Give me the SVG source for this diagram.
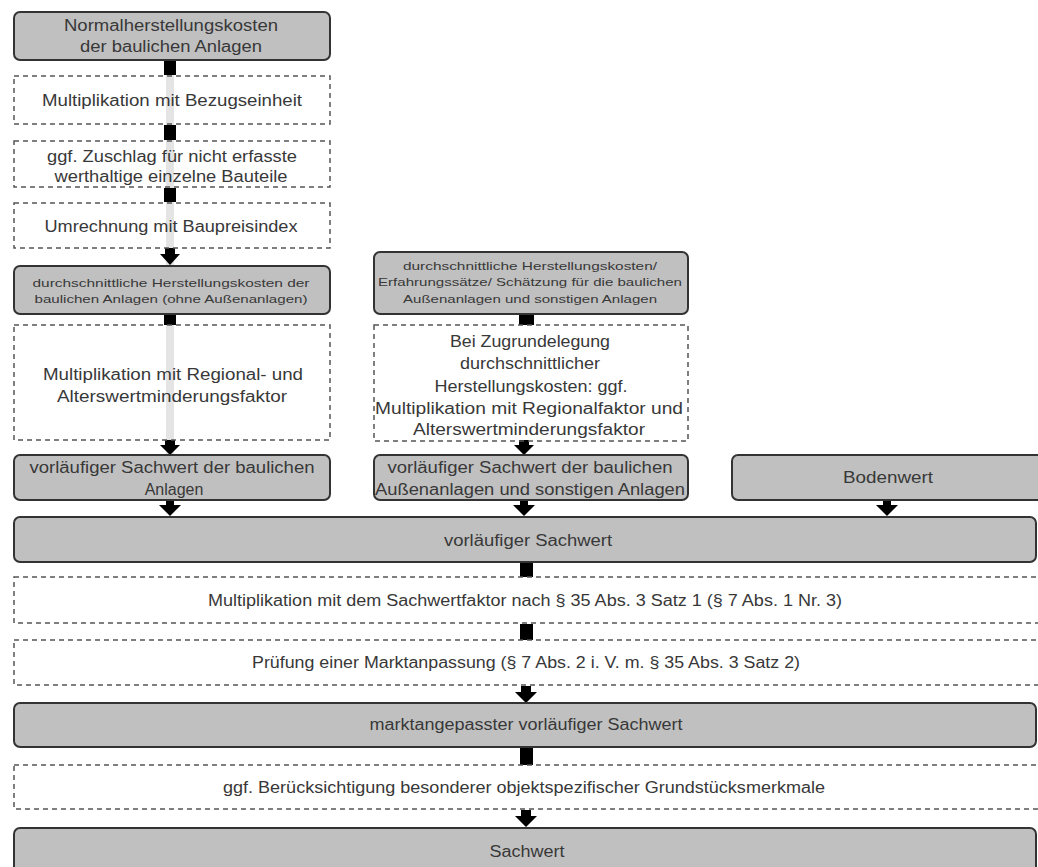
<svg xmlns="http://www.w3.org/2000/svg" width="1038" height="867" viewBox="0 0 1038 867">
<style>
.g{fill:#c0c0c0;stroke:#333;stroke-width:2}
.d{fill:none;stroke:#555;stroke-width:1.5;stroke-dasharray:5 4}
text{font-family:"Liberation Sans",Arial,sans-serif;font-size:16px;fill:#383838;text-anchor:middle;dominant-baseline:central}
.s{font-size:11px}
.k{fill:#000}
</style>
<rect width="1038" height="867" fill="#fff"/>
<g id="connectors">
<line x1="170" y1="60" x2="170" y2="455" stroke="#e4e4e4" stroke-width="8"/>
<rect class="k" x="164" y="61" width="12" height="14"/>
<rect class="k" x="164" y="125" width="12" height="15"/>
<rect class="k" x="164" y="188" width="12" height="14"/>
<path class="k" d="M165 248h10v6h5l-10 11l-10-11h5z"/>
<rect class="k" x="164" y="314" width="12" height="11"/>
<path class="k" d="M165 440h10v5h5l-10 10l-10-10h5z"/>
<path class="k" d="M166 500h8v5h7l-11 11l-11-11h7z"/>
<rect class="k" x="519" y="315" width="15" height="10"/>
<path class="k" d="M519 440h10v5h5l-10 10l-10-10h5z"/>
<path class="k" d="M520 500h8v5h7l-11 11l-11-11h7z"/>
<path class="k" d="M883 500h8v5h7l-11 11l-11-11h7z"/>
<rect class="k" x="520" y="563" width="13" height="14"/>
<rect class="k" x="520" y="624" width="13" height="16"/>
<path class="k" d="M521 686h10v6h6l-11 11l-11-11h6z"/>
<rect class="k" x="520" y="748" width="13" height="17"/>
<path class="k" d="M521 810h10v6h6l-11 11l-11-11h6z"/>
</g>
<g id="n1"><rect class="g" x="14" y="12" width="316" height="48" rx="6"/><text x="171" y="25" textLength="214" lengthAdjust="spacingAndGlyphs">Normalherstellungskosten</text><text x="171" y="46" textLength="182" lengthAdjust="spacingAndGlyphs">der baulichen Anlagen</text></g>
<g id="n2"><rect class="d" x="14" y="76" width="316" height="48"/><text x="172" y="100" textLength="260" lengthAdjust="spacingAndGlyphs">Multiplikation mit Bezugseinheit</text></g>
<g id="n3"><rect class="d" x="14" y="141" width="316" height="46"/><text x="172" y="156" textLength="250" lengthAdjust="spacingAndGlyphs">ggf. Zuschlag für nicht erfasste</text><text x="171" y="176" textLength="233" lengthAdjust="spacingAndGlyphs">werthaltige einzelne Bauteile</text></g>
<g id="n4"><rect class="d" x="14" y="203" width="316" height="45"/><text x="171" y="226" textLength="253" lengthAdjust="spacingAndGlyphs">Umrechnung mit Baupreisindex</text></g>
<g id="n5"><rect class="g" x="14" y="266" width="316" height="48" rx="6"/><text class="s" x="171" y="283" textLength="277" lengthAdjust="spacingAndGlyphs">durchschnittliche Herstellungskosten der</text><text class="s" x="171" y="299" textLength="273" lengthAdjust="spacingAndGlyphs">baulichen Anlagen (ohne Außenanlagen)</text></g>
<g id="n6"><rect class="d" x="14" y="325" width="316" height="115"/><text x="173" y="374" textLength="260" lengthAdjust="spacingAndGlyphs">Multiplikation mit Regional- und</text><text x="172" y="396" textLength="230" lengthAdjust="spacingAndGlyphs">Alterswertminderungsfaktor</text></g>
<g id="n7"><rect class="g" x="14" y="455" width="316" height="45" rx="6"/><text x="172" y="467" textLength="285" lengthAdjust="spacingAndGlyphs">vorläufiger Sachwert der baulichen</text><text x="174" y="489">Anlagen</text></g>
<g id="m1"><rect class="g" x="374" y="252" width="314" height="62" rx="6"/><text class="s" x="530" y="266" textLength="254" lengthAdjust="spacingAndGlyphs">durchschnittliche Herstellungskosten/</text><text class="s" x="530" y="282" textLength="304" lengthAdjust="spacingAndGlyphs">Erfahrungssätze/ Schätzung für die baulichen</text><text class="s" x="530" y="299" textLength="254" lengthAdjust="spacingAndGlyphs">Außenanlagen und sonstigen Anlagen</text></g>
<g id="m2"><rect class="d" x="374" y="325" width="314" height="116"/><text x="530" y="341" textLength="160" lengthAdjust="spacingAndGlyphs">Bei Zugrundelegung</text><text x="530" y="363" textLength="140" lengthAdjust="spacingAndGlyphs">durchschnittlicher</text><text x="531" y="386" textLength="193" lengthAdjust="spacingAndGlyphs">Herstellungskosten: ggf.</text><text x="529" y="408" textLength="308" lengthAdjust="spacingAndGlyphs">Multiplikation mit Regionalfaktor und</text><text x="529" y="429" textLength="232" lengthAdjust="spacingAndGlyphs">Alterswertminderungsfaktor</text></g>
<g id="m3"><rect class="g" x="374" y="455" width="314" height="45" rx="6"/><text x="530" y="467" textLength="285" lengthAdjust="spacingAndGlyphs">vorläufiger Sachwert der baulichen</text><text x="530" y="489" textLength="310" lengthAdjust="spacingAndGlyphs">Außenanlagen und sonstigen Anlagen</text></g>
<g id="bw"><rect class="g" x="732" y="455" width="330" height="45" rx="6"/><text x="888" y="477" textLength="90" lengthAdjust="spacingAndGlyphs">Bodenwert</text></g>
<g id="vs"><rect class="g" x="14" y="517" width="1022" height="45" rx="6"/><text x="528" y="540" textLength="168" lengthAdjust="spacingAndGlyphs">vorläufiger Sachwert</text></g>
<g id="mult"><rect class="d" x="14" y="577" width="1030" height="46"/><text x="525" y="600" textLength="634" lengthAdjust="spacingAndGlyphs">Multiplikation mit dem Sachwertfaktor nach § 35 Abs. 3 Satz 1 (§ 7 Abs. 1 Nr. 3)</text></g>
<g id="pruef"><rect class="d" x="14" y="640" width="1030" height="45"/><text x="526" y="662" textLength="548" lengthAdjust="spacingAndGlyphs">Prüfung einer Marktanpassung  (§ 7 Abs. 2 i. V. m. § 35 Abs. 3 Satz 2)</text></g>
<g id="markt"><rect class="g" x="14" y="703" width="1022" height="44" rx="6"/><text x="526" y="724" textLength="313" lengthAdjust="spacingAndGlyphs">marktangepasster vorläufiger Sachwert</text></g>
<g id="bes"><rect class="d" x="14" y="765" width="1030" height="44"/><text x="524" y="787" textLength="602" lengthAdjust="spacingAndGlyphs">ggf. Berücksichtigung besonderer objektspezifischer Grundstücksmerkmale</text></g>
<g id="sw"><rect class="g" x="14" y="828" width="1022" height="50" rx="6"/><text x="527" y="851" textLength="75" lengthAdjust="spacingAndGlyphs">Sachwert</text></g>
</svg>
